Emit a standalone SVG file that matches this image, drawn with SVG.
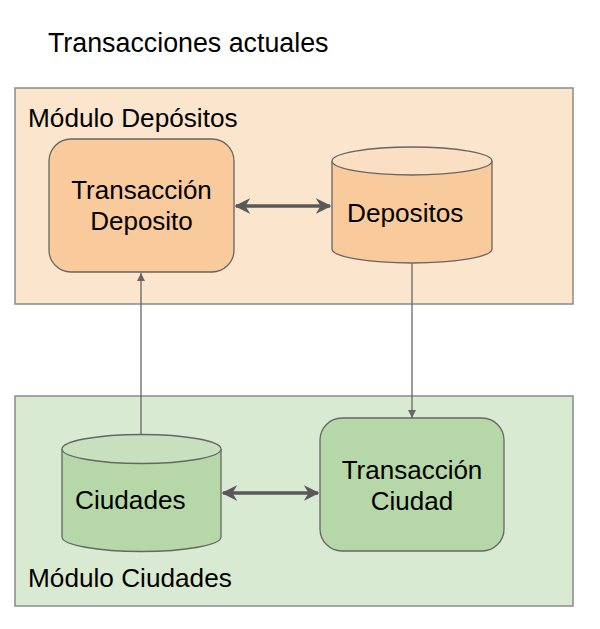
<svg xmlns="http://www.w3.org/2000/svg" width="600" height="629" viewBox="0 0 600 629">
<style>
text{font-family:"Liberation Sans",Arial,sans-serif;fill:#000}
.h{font-size:26.8px}
.t{font-size:26.2px}
.n{font-size:26px;text-anchor:middle}
.cont{stroke:#8a8a8a;stroke-width:1.5}
.node{stroke:#666;stroke-width:1.3}
.c{stroke:#666;stroke-width:1.3;fill:none}
.thick{stroke:#595959;stroke-width:3.5;fill:none}
</style>
<defs>
<marker id="big" viewBox="0 0 10 10" refX="9" refY="5" markerWidth="4.5" markerHeight="4.5" orient="auto-start-reverse" markerUnits="strokeWidth">
<path d="M0,0 L10,5 L0,10 L3,5 z" fill="#595959"/>
</marker>
<marker id="sm" viewBox="0 0 10 10" refX="10" refY="5" markerWidth="8" markerHeight="8" orient="auto" markerUnits="userSpaceOnUse">
<path d="M0,0 L10,5 L0,10 z" fill="#666"/>
</marker>
</defs>
<rect width="600" height="629" fill="#fff"/>
<text x="48" y="52" class="h">Transacciones actuales</text>

<g id="mod-depositos">
<rect x="15" y="88" width="558" height="216" fill="#fce5cd" class="cont"/>
<text x="28" y="126.5" class="t">Módulo Depósitos</text>
</g>
<g id="mod-ciudades">
<rect x="15" y="396" width="558" height="210" fill="#d9ead3" class="cont"/>
<text x="28" y="587" class="t">Módulo Ciudades</text>
</g>

<g id="connectors">
<line x1="141" y1="434" x2="141" y2="273" class="c" marker-end="url(#sm)"/>
<line x1="412" y1="263" x2="412" y2="418" class="c" marker-end="url(#sm)"/>
<line x1="236" y1="206" x2="330" y2="206" class="thick" marker-start="url(#big)" marker-end="url(#big)"/>
<line x1="223" y1="493" x2="318" y2="493" class="thick" marker-start="url(#big)" marker-end="url(#big)"/>
</g>

<g id="transaccion-deposito">
<rect x="49" y="139" width="185" height="133" rx="22" fill="#f9cb9c" class="node"/>
<text x="141.5" y="199" class="n">Transacción</text>
<text x="141.5" y="230" class="n">Deposito</text>
</g>
<g id="depositos">
<path d="M332,161 L332,249 A80,14 0 0 0 492,249 L492,161" fill="#f9cb9c" class="node"/>
<ellipse cx="412" cy="161" rx="80" ry="14" fill="#fbdfc2" class="node"/>
<text x="347" y="222" class="t">Depositos</text>
</g>
<g id="ciudades">
<path d="M62,449 L62,537 A79.5,14.5 0 0 0 221,537 L221,449" fill="#b6d7a8" class="node"/>
<ellipse cx="141.5" cy="449" rx="79.5" ry="14.5" fill="#c8e0bd" class="node"/>
<text x="75" y="509" class="t">Ciudades</text>
</g>
<g id="transaccion-ciudad">
<rect x="320" y="418" width="184" height="133" rx="22" fill="#b6d7a8" class="node"/>
<text x="412" y="479" class="n">Transacción</text>
<text x="412" y="510" class="n">Ciudad</text>
</g>
</svg>
